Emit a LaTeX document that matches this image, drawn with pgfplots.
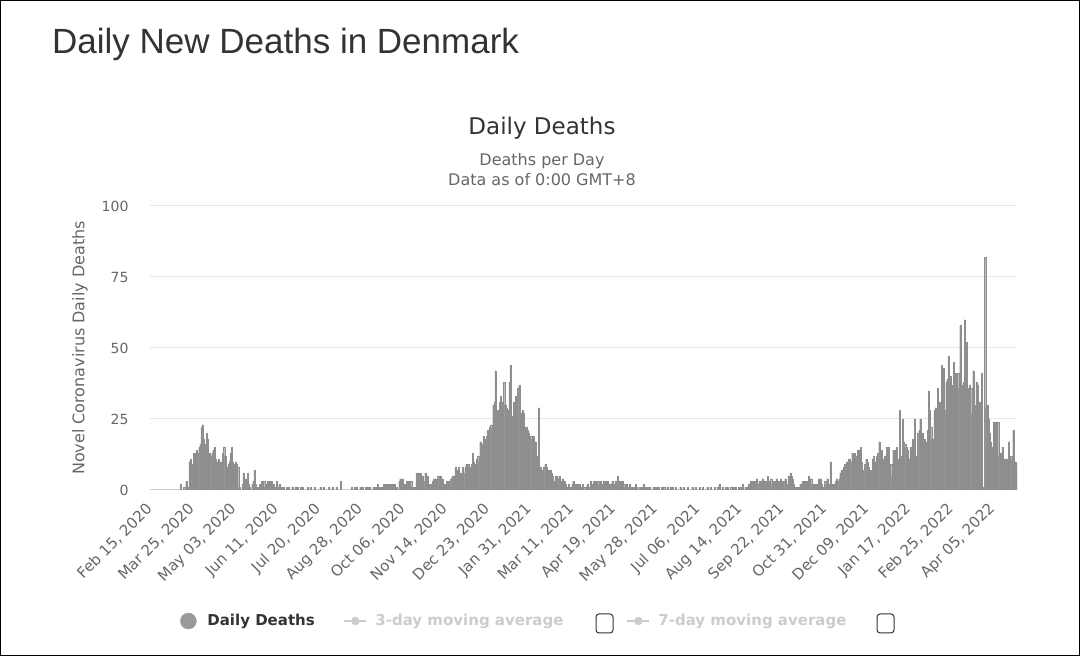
\documentclass[border=0pt]{standalone}
\usepackage{fontspec}
\setmainfont{DejaVu Sans}
\newfontfamily\titlefont{Liberation Sans}
\usepackage{pgfplots}
\usepackage{pgfplotstable}
\pgfplotsset{compat=1.18}
\definecolor{barcol}{HTML}{999999}
\definecolor{baredge}{HTML}{8E8E8E}
\definecolor{gridcol}{HTML}{E6E6E6}
\definecolor{axcol}{HTML}{CCD6EB}
\definecolor{txtgray}{HTML}{666666}
\definecolor{txtdark}{HTML}{333333}
\definecolor{hiddencol}{HTML}{CCCCCC}

% daily deaths, one value per day starting Feb 15, 2020
\pgfplotstableread[header=false,row sep=\\]{
0\\0\\0\\0\\0\\0\\0\\0\\0\\0\\
0\\0\\0\\0\\0\\0\\0\\0\\0\\0\\
0\\0\\0\\0\\0\\0\\0\\0\\
2\\0\\0\\1\\0\\3\\1\\0\\
10\\11\\8\\9\\13\\12\\13\\14\\13\\15\\
16\\22\\23\\18\\16\\15\\20\\18\\11\\13\\
12\\13\\14\\15\\11\\9\\10\\11\\9\\10\\
10\\13\\15\\12\\4\\8\\9\\10\\13\\15\\
10\\9\\8\\10\\9\\8\\1\\0\\
0\\2\\6\\1\\4\\0\\6\\2\\1\\0\\
2\\3\\7\\2\\1\\1\\1\\2\\0\\3\\
2\\3\\1\\2\\3\\1\\3\\2\\3\\0\\
2\\1\\0\\3\\1\\2\\0\\1\\0\\1\\
0\\0\\1\\0\\1\\0\\0\\1\\0\\0\\
1\\
0\\1\\0\\0\\1\\0\\1\\0\\0\\0\\
1\\0\\0\\1\\0\\0\\0\\1\\0\\0\\
0\\0\\1\\0\\0\\1\\0\\0\\0\\0\\
1\\0\\0\\1\\0\\0\\0\\1\\0\\0\\
0\\3\\0\\0\\0\\0\\0\\0\\0\\0\\
0\\1\\0\\0\\1\\0\\1\\0\\0\\1\\
0\\1\\0\\0\\1\\0\\1\\0\\1\\0\\
0\\1\\0\\1\\0\\2\\0\\1\\0\\1\\
0\\
2\\2\\2\\1\\2\\2\\1\\2\\2\\1\\2\\1\\
1\\0\\3\\4\\3\\4\\2\\1\\2\\3\\2\\3\\2\\3\\1\\1\\0\\1\\
6\\3\\6\\2\\6\\2\\5\\3\\6\\2\\5\\
2\\1\\2\\1\\3\\4\\2\\4\\3\\
5\\4\\5\\3\\4\\
2\\1\\2\\3\\2\\3\\1\\4\\5\\4\\
5\\8\\6\\7\\8\\5\\6\\4\\8\\6\\
8\\9\\5\\9\\8\\6\\9\\13\\10\\9\\
8\\11\\12\\10\\17\\16\\12\\19\\18\\17\\
19\\21\\20\\22\\23\\22\\30\\31\\42\\27\\
28\\14\\31\\33\\30\\31\\38\\30\\29\\28\\
27\\38\\44\\26\\25\\31\\30\\33\\32\\36\\
37\\27\\14\\28\\27\\22\\21\\22\\21\\20\\
17\\19\\18\\19\\13\\17\\12\\0\\29\\7\\
8\\7\\6\\8\\9\\8\\7\\7\\6\\7\\
6\\5\\1\\3\\5\\5\\4\\5\\3\\3\\
4\\3\\3\\2\\1\\1\\2\\1\\1\\2\\
3\\2\\2\\1\\2\\1\\2\\1\\1\\2\\
1\\0\\1\\2\\1\\1\\3\\1\\
2\\3\\2\\3\\1\\3\\2\\3\\2\\1\\
3\\2\\3\\2\\3\\2\\1\\2\\3\\2\\
2\\3\\2\\5\\2\\3\\3\\2\\3\\2\\
1\\2\\1\\1\\2\\
1\\0\\1\\1\\0\\2\\1\\0\\1\\0\\
1\\0\\2\\1\\0\\1\\0\\1\\1\\0\\
0\\1\\0\\1\\0\\1\\1\\0\\0\\1\\
0\\1\\0\\0\\1\\0\\0\\1\\0\\1\\
0\\0\\1\\0\\0\\0\\1\\0\\0\\1\\
0\\0\\
0\\1\\0\\0\\0\\1\\0\\0\\1\\0\\
0\\0\\1\\0\\0\\1\\0\\0\\0\\1\\
0\\0\\1\\0\\0\\0\\1\\0\\0\\1\\
2\\0\\0\\1\\0\\0\\1\\0\\1\\0\\
0\\1\\0\\1\\0\\1\\0\\
0\\1\\0\\1\\0\\2\\0\\1\\1\\0\\
2\\1\\3\\2\\3\\1\\3\\2\\4\\2\\
3\\3\\2\\4\\3\\2\\3\\2\\5\\3\\
2\\4\\2\\3\\2\\3\\4\\2\\3\\2\\
4\\3\\2\\3\\4\\2\\1\\5\\4\\6\\
5\\4\\2\\1\\1\\0\\1\\1\\2\\1\\
3\\2\\3\\3\\2\\3\\5\\4\\4\\2\\
2\\1\\2\\2\\1\\4\\3\\4\\2\\1\\
0\\3\\2\\4\\2\\1\\10\\2\\1\\2\\
2\\3\\4\\3\\4\\6\\7\\6\\8\\9\\
8\\10\\9\\11\\11\\10\\13\\12\\13\\11\\
12\\14\\13\\14\\15\\10\\6\\7\\9\\11\\
10\\8\\6\\7\\6\\11\\12\\1\\10\\12\\
13\\17\\12\\14\\
10\\11\\12\\11\\15\\14\\15\\7\\9\\5\\
14\\13\\14\\15\\10\\11\\28\\12\\11\\25\\
17\\16\\15\\14\\10\\11\\15\\14\\18\\16\\
25\\11\\12\\20\\21\\25\\18\\20\\17\\18\\
17\\15\\21\\35\\28\\22\\18\\17\\28\\29\\
27\\36\\30\\31\\30\\44\\42\\43\\28\\38\\
39\\47\\38\\40\\37\\36\\45\\37\\41\\40\\
41\\36\\58\\37\\36\\38\\60\\27\\52\\33\\
36\\37\\36\\27\\42\\30\\26\\38\\37\\28\\
31\\24\\41\\0\\1\\82\\29\\30\\25\\20\\
17\\14\\15\\24\\23\\24\\23\\24\\12\\13\\
11\\15\\10\\11\\10\\11\\10\\17\\11\\12\\
11\\21\\10\\10\\9\\
}\deaths

\begin{document}
\begin{tikzpicture}[x=1pt,y=1pt]
\useasboundingbox (0,0) rectangle (1080,656);
\draw[line width=1.2pt] (0.6,0.6) rectangle (1079.4,655.4);
\node[anchor=base west, font=\titlefont\fontsize{35}{40}\selectfont, text=txtdark, inner sep=0pt] at (52,602) {Daily New Deaths in Denmark};
\node[anchor=base, font=\fontsize{23}{28}\selectfont, text=txtdark, inner sep=0pt] at (542,521) {Daily Deaths};
\node[anchor=base, font=\fontsize{16}{19}\selectfont, text=txtgray, inner sep=0pt] at (542,490) {Deaths per Day};
\node[anchor=base, font=\fontsize{16}{19}\selectfont, text=txtgray, inner sep=0pt] at (542,470) {Data as of 0:00 GMT+8};

\begin{axis}[
  at={(150pt,166pt)}, anchor=south west, scale only axis,
  width=867pt, height=284pt,
  xmin=-0.5, xmax=801.5, ymin=0, ymax=100,
  ytick={0,25,50,75,100},
  xtick={0,39,...,780},
  xticklabels={{Feb 15, 2020},{Mar 25, 2020},{May 03, 2020},{Jun 11, 2020},{Jul 20, 2020},{Aug 28, 2020},{Oct 06, 2020},{Nov 14, 2020},{Dec 23, 2020},{Jan 31, 2021},{Mar 11, 2021},{Apr 19, 2021},{May 28, 2021},{Jul 06, 2021},{Aug 14, 2021},{Sep 22, 2021},{Oct 31, 2021},{Dec 09, 2021},{Jan 17, 2022},{Feb 25, 2022},{Apr 05, 2022}},
  axis x line*=bottom, axis y line*=left,
  x axis line style={draw=axcol, line width=1pt, -},
  y axis line style={draw=none, -},
  tick style={draw=none},
  ymajorgrids, major grid style={draw=gridcol, line width=1pt},
  xticklabel style={rotate=45, anchor=east, font=\fontsize{15}{17}\selectfont, text=txtgray, yshift=-11pt, xshift=-9pt},
  yticklabel style={font=\fontsize{14}{16}\selectfont, text=txtgray, xshift=-18pt},
  /pgf/number format/assume math mode=true,
  ylabel={Novel Coronavirus Daily Deaths},
  ylabel style={font=\fontsize{16}{19}\selectfont, text=txtgray, at={(axis description cs:-0.0807,0.5)}, anchor=center},
  legend style={at={(axis description cs:0.0346,-0.4613)}, anchor=west, draw=none, fill=none,
    inner sep=0pt, nodes={inner sep=0pt},
    font=\bfseries\fontsize{15}{18}\selectfont, text=txtdark,
    /tikz/every odd column/.append style={column sep=8pt},
    /tikz/every even column/.append style={column sep=28pt}},
  legend columns=3,
  legend cell align=left,
]
\addplot[ybar, bar width=1, bar shift=0pt, fill=barcol, draw=baredge, line width=0.15pt, forget plot]
  table[x expr=\coordindex, y index=0] {\deaths};
\addlegendimage{legend image code/.code={\path[draw=none, fill=none] (0pt,0pt) -- (19pt,0pt); \fill[barcol] (8pt,0pt) circle (8pt);}}
\addlegendentry{\makebox[108pt][l]{Daily Deaths}}
\addlegendimage{legend image code/.code={\draw[hiddencol, line width=2pt] (0pt,0pt) -- (22pt,0pt); \fill[hiddencol] (11pt,0pt) circle (4pt);}}
\addlegendentry{\makebox[223pt][l]{\textcolor{hiddencol}{3-day moving average}}}
\addlegendimage{legend image code/.code={\draw[hiddencol, line width=2pt] (0pt,0pt) -- (22pt,0pt); \fill[hiddencol] (11pt,0pt) circle (4pt);}}
\addlegendentry{\makebox[195pt][l]{\textcolor{hiddencol}{7-day moving average}}}
\end{axis}

\draw[txtdark, line width=1pt, rounded corners=3pt] (596,23) rectangle (613,42);
\draw[txtdark, line width=1pt, rounded corners=3pt] (877,23) rectangle (894,42);
\end{tikzpicture}
\end{document}
